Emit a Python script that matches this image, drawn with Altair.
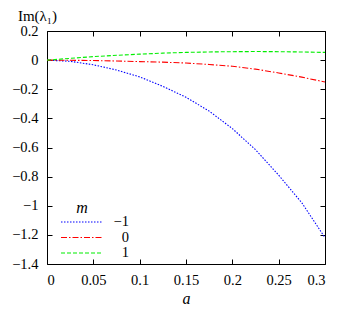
import altair as alt
import pandas as pd

a_vals = [0, 0.025, 0.05, 0.075, 0.1, 0.125, 0.15, 0.175, 0.2, 0.225, 0.25, 0.275, 0.3]
m_minus1 = [0, -0.008, -0.032, -0.068, -0.115, -0.18, -0.255, -0.35, -0.47, -0.615, -0.79, -0.98, -1.22]
m_zero = [0, -0.001, -0.003, -0.006, -0.01, -0.014, -0.02, -0.03, -0.042, -0.062, -0.088, -0.117, -0.15]
m_plus1 = [0, 0.012, 0.024, 0.033, 0.041, 0.048, 0.053, 0.056, 0.058, 0.059, 0.058, 0.056, 0.053]

m_labels = ["\u22121", "0", "1"]
m_colors = ["#0000ff", "#ff0000", "#00ee00"]
m_dashes = [[1.5, 1.5], [6, 2, 1.5, 2], [4, 2]]

x_ticks = [0, 0.05, 0.1, 0.15, 0.2, 0.25, 0.3]
y_ticks = [0.2, 0, -0.2, -0.4, -0.6, -0.8, -1, -1.2, -1.4]

rows = []
for lab, series in zip(m_labels, [m_minus1, m_zero, m_plus1]):
    for a, v in zip(a_vals, series):
        rows.append({"a": a, "v": v, "m": lab})
df = pd.DataFrame(rows)

FONT = "Liberation Serif, Times New Roman, DejaVu Serif, serif"
FS = 14.5
xs = alt.Scale(domain=[0, 0.3], nice=False, zero=False)
ys = alt.Scale(domain=[-1.4, 0.2], nice=False, zero=False)

leg = alt.Legend(
    title=None, orient="none", legendX=27, legendY=183,
    symbolType="M-3,0H3", symbolSize=196, symbolStrokeWidth=1.2,
    labelFont=FONT, labelFontSize=FS, labelAlign="right", labelOffset=39,
    labelColor="black", rowPadding=0.5, padding=0,
)

lines = alt.Chart(df).mark_line(strokeWidth=1.1).encode(
    x=alt.X("a:Q", scale=xs, axis=alt.Axis(
        values=x_ticks, format=".2~f", ticks=False, domain=False, grid=False,
        labelPadding=9, labelFont=FONT, labelFontSize=FS, labelColor="black",
        title="a", titleFont=FONT, titleFontStyle="italic", titleFontWeight="normal",
        titleFontSize=16, titlePadding=4, titleColor="black", orient="bottom")),
    y=alt.Y("v:Q", scale=ys, axis=alt.Axis(
        values=y_ticks, format=".1~f", ticks=False, domain=False, grid=False,
        labelPadding=9, labelFont=FONT, labelFontSize=FS, labelColor="black",
        title="Im(\u03bb\u2081)", titleFont=FONT, titleFontWeight="normal",
        titleFontSize=15, titleColor="black", titleAngle=0, titleAlign="center",
        titleBaseline="alphabetic", titleX=-10, titleY=-11, orient="left")),
    color=alt.Color("m:N", sort=m_labels, scale=alt.Scale(domain=m_labels, range=m_colors), legend=leg),
    strokeDash=alt.StrokeDash("m:N", sort=m_labels, scale=alt.Scale(domain=m_labels, range=m_dashes), legend=leg),
)

def tick_axis(orient, vals):
    return alt.Axis(values=vals, orient=orient, offset=-5, tickSize=5, ticks=True,
                    labels=False, domain=False, grid=False, title=None,
                    tickColor="black", tickWidth=1)

ticks_a = alt.Chart(df).mark_point(opacity=0).encode(
    x=alt.X("a:Q", scale=xs, axis=tick_axis("bottom", x_ticks)),
    y=alt.Y("v:Q", scale=ys, axis=tick_axis("left", y_ticks)),
)
ticks_b = alt.Chart(df).mark_point(opacity=0).encode(
    x=alt.X("a:Q", scale=xs, axis=tick_axis("top", x_ticks)),
    y=alt.Y("v:Q", scale=ys, axis=tick_axis("right", y_ticks)),
)

mtitle = alt.Chart(pd.DataFrame({"t": ["m"]})).mark_text(
    font=FONT, fontSize=16, fontStyle="italic", color="black", baseline="middle", align="center"
).encode(text="t:N", x=alt.value(35), y=alt.value(177))

chart = alt.layer(lines, ticks_a, ticks_b, mtitle).resolve_axis(
    x="independent", y="independent"
).properties(
    width=278, height=233,
    autosize=alt.AutoSizeParams(type="none"),
    padding={"left": 39, "top": 23, "right": 8, "bottom": 46},
).configure_view(stroke="black", strokeWidth=1)

chart.save("out.html", embed_options={"renderer": "svg", "actions": False})
